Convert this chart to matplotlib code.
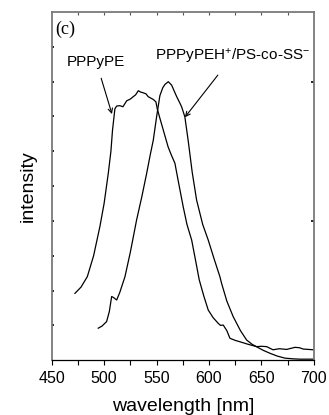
import matplotlib
matplotlib.use("Agg")
import matplotlib.pyplot as plt
import numpy as np

# PPPyPE spectrum (normalized intensity)
wl_a = [472.2, 478, 484, 490, 496, 500, 504, 506.5, 508, 510.3, 512, 515, 518, 521.5, 525,
        527.8, 530, 532.6, 535, 537.3, 540, 542, 545, 546.9, 549.4, 550.7, 553.2, 557, 561,
        564, 567.5, 571, 575.4, 579, 583.5, 587, 590.7, 595, 599.3, 604, 608.8, 611, 613.6,
        617, 620, 625, 629.5, 637, 645.4, 650, 655, 661, 667, 674, 678, 682, 686, 690, 695, 699.4]
int_a = [0.192, 0.21, 0.24, 0.30, 0.384, 0.45, 0.537, 0.60, 0.66, 0.722, 0.730, 0.731, 0.728,
         0.745, 0.750, 0.757, 0.762, 0.774, 0.770, 0.768, 0.765, 0.757, 0.752, 0.749, 0.742,
         0.722, 0.695, 0.655, 0.613, 0.59, 0.566, 0.51, 0.441, 0.39, 0.345, 0.29, 0.231, 0.185,
         0.144, 0.122, 0.106, 0.100, 0.101, 0.085, 0.063, 0.057, 0.053, 0.046, 0.039, 0.040,
         0.039, 0.030, 0.033, 0.031, 0.034, 0.037, 0.036, 0.032, 0.031, 0.030]

# PPPyPEH+/PS-co-SS- spectrum (normalized intensity)
wl_b = [494.4, 498, 502.4, 505, 507.2, 509, 512, 515, 519.9, 525, 531, 536, 540.6, 544,
        546.9, 550.1, 553.2, 556, 558, 561.2, 564.4, 567, 569.2, 572, 573.9, 577, 580.2,
        584, 588.2, 594, 599.3, 605, 610.4, 612, 617, 623.1, 630, 635.9, 641, 647, 652,
        658.1, 665, 672.4, 680, 686.7, 693, 699.4]
int_b = [0.092, 0.098, 0.111, 0.14, 0.183, 0.180, 0.173, 0.195, 0.240, 0.31, 0.403, 0.47,
         0.537, 0.59, 0.632, 0.700, 0.760, 0.783, 0.792, 0.800, 0.790, 0.772, 0.757, 0.740,
         0.728, 0.699, 0.630, 0.54, 0.46, 0.39, 0.345, 0.29, 0.24, 0.221, 0.17, 0.125, 0.085,
         0.058, 0.046, 0.036, 0.028, 0.020, 0.012, 0.006, 0.004, 0.003, 0.003, 0.003]

xticks = [450, 500, 550, 600, 650, 700]

plt.rcParams['font.family'] = ['Liberation Sans', 'DejaVu Sans']
plt.rcParams['mathtext.fontset'] = 'custom'
plt.rcParams['mathtext.rm'] = 'Liberation Sans'
plt.rcParams['mathtext.it'] = 'Liberation Sans'
plt.rcParams['mathtext.bf'] = 'Liberation Sans'

fig = plt.figure(figsize=(3.29, 4.15), dpi=100)
ax = fig.add_axes([0.157, 0.132, 0.797, 0.839])

ax.plot(wl_a, int_a, color='black', lw=0.9)
ax.plot(wl_b, int_b, color='black', lw=0.9)

ax.set_xlim(450, 700)
ax.set_ylim(0, 1)
ax.set_xticks(xticks)
ax.set_xticklabels([str(v) for v in xticks], fontsize=11.5)
ax.set_xticks(np.arange(475, 700, 50), minor=True)
ax.set_yticks(np.arange(0.1, 1.0, 0.1))
ax.set_yticklabels([])
ax.tick_params(axis='x', which='both', direction='out', length=3.5, width=0.8,
               top=False, pad=4)
ax.tick_params(axis='y', which='both', direction='in', length=1.5, width=1.2,
               left=True, right=False)

for s in ['left', 'right', 'top']:
    ax.spines[s].set_color('#7a7a7a')
    ax.spines[s].set_linewidth(1.3)
ax.spines['bottom'].set_color('black')
ax.spines['bottom'].set_linewidth(0.9)

# top ticks inward every 25 nm
top = ax.secondary_xaxis('top')
top.set_xticks(np.arange(475, 700, 25))
top.set_xticklabels([])
top.tick_params(direction='in', length=2, width=0.8, color='#555555')
top.spines['top'].set_visible(False)

# right ticks
right = ax.secondary_yaxis('right')
right.set_yticks([0.4, 0.8])
right.set_yticklabels([])
right.tick_params(direction='in', length=2, width=1.2, color='black')
right.spines['right'].set_visible(False)

ax.set_xlabel('wavelength [nm]', fontsize=14, labelpad=9)
ax.set_ylabel('intensity', fontsize=14, labelpad=7)

ax.text(0.014, 0.975, '(c)', transform=ax.transAxes, fontsize=13,
        family=['Liberation Serif'], va='top', ha='left')

ax.annotate('PPPyPE', xy=(507.5, 0.707), xytext=(492.5, 0.857),
            fontsize=11, ha='center', va='center',
            arrowprops=dict(arrowstyle='->', lw=0.8, color='black',
                            shrinkA=5, shrinkB=0, mutation_scale=8))
ax.annotate('PPPyPEH$^{+}$/PS-co-SS$^{-}$',
            xy=(577.1, 0.698), xytext=(622.5, 0.873),
            fontsize=11, ha='center', va='center',
            arrowprops=dict(arrowstyle='->', lw=0.8, color='black',
                            shrinkA=6, shrinkB=0, mutation_scale=8))

fig.savefig('out.png', dpi=100)
